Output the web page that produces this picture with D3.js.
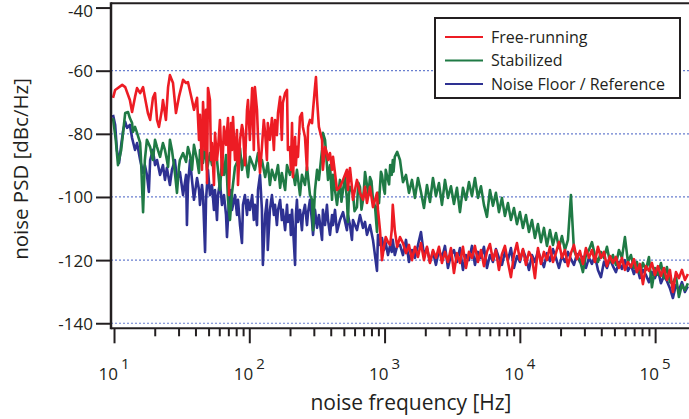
<!DOCTYPE html>
<html>
<head>
<meta charset="utf-8">
<script src="https://cdn.jsdelivr.net/npm/d3@7"></script>
<style>
  body { margin: 0; background: #fff; }
  text { font-family: "Open Sans", sans-serif; fill: #231f20; }
</style>
</head>
<body>
<div class="chart"></div>
<script>
'use strict';

// shared FFT bins above ~1.3 kHz (Hz)
var hfFreq = [
  1300,1368,1440,1515,1594,1677,1766,1858,1955,2058,
  2166,2279,2398,2524,2656,2796,2942,3096,3258,3429,
  3608,3797,3996,4205,4426,4657,4901,5158,5428,5712,
  6012,6326,6657,7006,7373,7759,8166,8593,9044,9518,
  10016,10540,11090,11680,12290,12930,13610,14320,15070,15860,
  16690,17570,18490,19450,20470,21540,22670,23860,25110,26420,
  27810,29260,30800,32410,34110,35890,37780,39760,41840,44030,
  46340,48760,51320,54010,56840,59810,62950,66240,69710,73370,
  77210,81250,85510,89990,94710,99660,104900,110400,116100,122200,
  128600,135400,142500,149900,157800,166100,174700
];

// free-running: [Hz, dBc/Hz] below 1.3 kHz, then dB on hfFreq
var freeRunningLow = [
  [9.83,-68.6],[10.2,-66.1],[11.5,-64.5],[12.1,-65.2],[13.1,-69.3],[13.6,-73.1],[14.3,-68.3],[14.8,-65.5],[15.6,-67.1],[16.4,-65.2],
  [16.9,-68.3],[17.8,-73.4],[18.5,-75.6],[19.4,-68.6],[20.1,-67.1],[20.8,-75.6],[21.5,-77.8],[22.6,-72.4],[23.0,-69.3],[24.2,-75.6],
  [25.1,-65.2],[25.9,-61.4],[27.3,-63.9],[28.7,-73.4],[30.2,-68.3],[32.4,-62.9],[34.1,-63.9],[35.2,-63.6],[37.7,-69.3],[39.0,-72.4],
  [41.1,-68.6],[42.5,-81.9],[43.2,-74.0],[44.7,-91.4],[45.5,-69.9],[47.1,-85.1],[47.9,-72.4],[48.7,-95.6],[49.5,-65.5],[51.2,-69.3],
  [52.1,-88.3],[53.0,-82.9],[54.8,-96.2],[55.8,-79.7],[57.7,-88.3],[58.7,-85.1],[60.7,-75.6],[62.8,-93.0],[65.0,-77.8],[67.3,-83.5],
  [69.6,-75.0],[70.8,-99.4],[73.2,-76.6],[74.5,-85.1],[75.8,-74.7],[78.4,-88.3],[81.1,-78.8],[82.5,-96.2],[85.4,-81.9],[88.3,-77.2],
  [89.8,-78.8],[92.9,-89.9],[96.2,-72.4],[97.8,-69.3],[101,-81.9],[105,-65.5],[108,-85.1],[110,-65.2],[114,-72.4],[116,-81.0],
  [120,-92.4],[124,-84.2],[128,-75.6],[131,-79.7],[135,-88.3],[137,-76.6],[142,-81.9],[147,-75.0],[152,-85.1],[155,-75.6],
  [160,-80.4],[163,-73.4],[169,-68.3],[174,-81.9],[177,-70.2],[184,-67.1],[190,-66.1],[193,-85.1],[200,-84.2],[203,-91.4],
  [207,-76.6],[210,-93.7],[218,-81.0],[221,-89.9],[225,-84.2],[229,-87.3],[237,-74.7],[245,-73.4],[249,-77.8],[258,-81.0],
  [267,-91.4],[272,-77.8],[281,-75.6],[291,-76.6],[296,-72.4],[306,-65.2],[311,-62.0],[317,-69.3],[327,-77.8],[345,-81.9],
  [350,-91.4],[363,-84.2],[375,-86.1],[382,-88.3],[395,-86.1],[409,-91.4],[416,-87.3],[430,-92.4],[445,-97.8],[468,-96.8],
  [493,-94.6],[527,-91.4],[536,-97.8],[555,-90.8],[574,-96.8],[584,-100.9],[625,-94.6],[658,-98.7],[693,-100.9],[717,-96.8],
  [741,-101.9],[780,-96.8],[821,-103.2],[879,-98.7],[894,-104.1],[925,-110.5],[957,-120.0],[990,-115.8],[1020,-112.7],[1060,-114.3],
  [1100,-115.2],[1130,-110.5],[1150,-102.5],[1190,-110.5],[1240,-115.8]
];
var freeRunningHigh = [
  -112.7,-114.6,-117.8,-115.2,-120.0,-115.8,-119.0,-114.6,-120.0,-115.8,
  -120.9,-116.8,-119.3,-115.8,-120.9,-117.4,-120.6,-116.2,-124.1,-117.8,
  -120.9,-115.8,-122.5,-117.4,-119.3,-115.5,-120.6,-116.8,-121.9,-117.4,
  -114.9,-120.0,-116.8,-123.1,-118.1,-115.5,-120.6,-125.4,-118.4,-114.6,
  -120.0,-116.5,-121.5,-117.4,-119.3,-125.7,-116.2,-121.2,-117.4,-120.0,
  -115.8,-120.6,-117.8,-114.3,-119.3,-116.8,-121.9,-117.8,-115.2,-119.7,
  -117.1,-121.2,-116.2,-119.3,-116.8,-120.6,-115.8,-119.3,-117.4,-121.9,
  -118.7,-120.9,-119.0,-122.5,-119.3,-123.1,-120.6,-122.2,-119.7,-123.8,
  -121.2,-127.6,-121.9,-123.4,-120.9,-124.7,-121.9,-125.0,-122.5,-126.3,
  -123.1,-130.1,-123.8,-125.7,-123.1,-126.3,-124.4
];

var stabilizedLow = [
  [9.83,-75.0],[10.3,-81.9],[10.7,-89.9],[11.3,-85.1],[12.1,-73.4],[12.7,-73.1],[13.1,-75.0],[13.6,-76.6],[13.8,-79.4],[14.3,-77.8],
  [14.8,-79.7],[15.6,-82.9],[15.8,-87.3],[16.4,-104.8],[16.9,-88.3],[17.5,-81.9],[18.5,-84.2],[19.4,-88.3],[20.1,-81.9],[20.8,-84.2],
  [21.9,-87.3],[23.0,-82.9],[23.8,-85.1],[24.6,-88.3],[25.1,-90.5],[25.9,-81.9],[26.8,-85.1],[28.2,-92.4],[29.2,-98.7],[30.2,-90.5],
  [30.7,-88.3],[32.4,-86.1],[34.1,-88.9],[35.2,-84.2],[36.5,-86.7],[37.7,-91.4],[39.0,-83.5],[41.1,-88.3],[42.5,-92.4],[43.2,-85.1],
  [45.5,-89.2],[47.1,-83.5],[48.7,-91.4],[51.2,-86.1],[53.0,-89.9],[54.8,-85.1],[57.7,-88.3],[60.7,-97.8],[62.8,-88.3],[65.0,-93.0],
  [67.3,-86.7],[69.6,-100.9],[72.0,-107.3],[74.5,-98.7],[78.4,-90.5],[82.5,-88.3],[85.4,-84.5],[88.3,-91.4],[92.9,-86.1],[97.8,-93.7],
  [101,-87.3],[105,-89.2],[110,-91.4],[116,-86.1],[120,-90.5],[124,-88.3],[131,-93.7],[137,-89.2],[142,-96.2],[147,-91.4],
  [155,-94.6],[163,-89.9],[169,-97.1],[174,-92.4],[184,-97.8],[190,-89.9],[200,-93.0],[207,-89.9],[218,-96.2],[225,-91.4],
  [237,-99.4],[245,-93.0],[258,-96.2],[267,-90.5],[281,-99.4],[291,-100.9],[296,-110.5],[306,-97.8],[317,-91.4],[327,-94.6],
  [345,-85.1],[350,-79.7],[363,-81.9],[375,-89.9],[382,-94.6],[395,-89.9],[409,-100.9],[416,-93.0],[430,-97.8],[445,-102.5],
  [468,-94.6],[480,-101.5],[493,-97.8],[510,-93.5],[527,-100.9],[536,-107.9],[545,-99.5],[555,-96.8],[584,-98.7],[600,-104.5],
  [625,-103.2],[640,-95.5],[658,-96.8],[675,-104.0],[693,-100.9],[705,-97.0],[717,-92.1],[741,-96.2],[760,-99.5],[780,-93.7],
  [800,-95.0],[821,-100.9],[850,-103.0],[879,-111.1],[894,-98.7],[910,-102.0],[925,-96.8],[940,-92.0],[957,-93.0],[990,-97.8],
  [1005,-99.0],[1020,-91.4],[1060,-94.6],[1080,-96.0],[1100,-89.9],[1130,-93.0],[1150,-88.3],[1165,-92.0],[1190,-87.3],[1240,-85.7]
];
var stabilizedHigh = [
  -88.3,-95.3,-93.0,-98.7,-94.6,-100.3,-94.0,-98.4,-103.5,-96.2,
  -101.6,-94.0,-99.7,-95.6,-102.5,-94.6,-100.3,-96.6,-102.2,-97.1,
  -104.8,-97.1,-100.9,-95.3,-99.7,-94.0,-100.3,-96.6,-102.5,-106.3,
  -97.8,-102.8,-98.7,-104.8,-100.3,-106.0,-101.9,-107.3,-103.5,-108.6,
  -104.8,-109.8,-105.7,-111.1,-107.3,-113.0,-108.6,-114.3,-109.8,-115.5,
  -110.5,-115.2,-111.4,-116.2,-112.4,-116.8,-113.6,-99.4,-116.8,-119.3,
  -120.0,-123.8,-118.4,-116.8,-114.3,-118.4,-120.6,-117.4,-119.3,-115.8,
  -120.6,-118.4,-121.5,-116.8,-119.3,-112.7,-120.6,-118.4,-122.5,-120.6,
  -124.1,-120.9,-123.1,-119.0,-128.6,-122.5,-124.7,-120.9,-125.7,-122.2,
  -127.0,-127.3,-125.0,-131.7,-127.9,-129.5,-127.3
];

var referenceLow = [
  [9.83,-74.0],[10.2,-77.2],[10.5,-85.1],[10.9,-89.2],[11.3,-83.5],[11.7,-78.8],[12.1,-76.2],[12.5,-78.1],[13.1,-77.2],[13.6,-81.3],
  [14.3,-85.1],[14.8,-82.9],[15.6,-88.3],[16.4,-92.4],[16.9,-89.9],[17.5,-93.0],[18.1,-98.4],[18.5,-88.3],[19.4,-85.1],[20.1,-89.9],
  [20.8,-88.3],[21.9,-93.0],[23.0,-89.9],[23.8,-94.6],[24.6,-90.8],[25.9,-96.2],[26.8,-91.4],[28.2,-88.3],[29.2,-94.6],[30.7,-92.1],
  [32.4,-99.4],[34.1,-93.0],[34.6,-108.9],[35.2,-96.2],[36.5,-88.3],[37.7,-94.6],[39.0,-100.9],[41.1,-94.0],[42.5,-97.8],[43.2,-102.5],
  [44.7,-96.2],[45.5,-99.4],[47.1,-117.4],[47.9,-100.9],[49.5,-91.4],[51.2,-99.4],[53.0,-96.2],[54.8,-104.1],[55.8,-97.8],[57.7,-107.3],
  [58.7,-99.4],[60.7,-95.3],[62.8,-102.5],[65.0,-99.4],[67.3,-105.7],[68.4,-112.7],[70.8,-100.9],[73.2,-97.8],[74.5,-104.1],[78.4,-99.4],
  [81.1,-105.7],[82.5,-100.9],[85.4,-108.9],[88.3,-114.6],[89.8,-102.5],[92.9,-99.4],[96.2,-105.7],[97.8,-100.9],[101,-104.1],[105,-99.4],
  [108,-107.3],[110,-102.5],[114,-108.9],[116,-97.8],[120,-93.0],[124,-104.1],[126,-121.5],[131,-105.7],[135,-100.9],[137,-116.8],
  [142,-104.1],[147,-99.4],[152,-105.7],[155,-102.5],[160,-108.9],[163,-104.1],[169,-100.9],[174,-107.3],[177,-104.1],[184,-110.5],
  [190,-102.5],[193,-107.9],[200,-105.7],[203,-112.0],[207,-104.1],[210,-108.9],[218,-121.5],[221,-105.7],[225,-100.9],[229,-107.9],
  [237,-104.1],[245,-110.5],[249,-105.7],[258,-102.5],[267,-108.9],[272,-104.8],[281,-100.9],[291,-107.9],[296,-112.0],[306,-104.1],
  [317,-109.8],[327,-105.7],[345,-113.6],[350,-104.1],[363,-108.9],[375,-102.5],[382,-107.3],[395,-112.0],[409,-105.7],[416,-108.9],
  [430,-104.1],[445,-111.1],[468,-107.3],[493,-104.8],[527,-110.5],[536,-105.7],[555,-108.9],[574,-113.6],[584,-107.3],[625,-110.5],
  [658,-105.7],[693,-109.8],[717,-107.9],[741,-112.0],[780,-108.9],[821,-113.6],[879,-123.4],[894,-112.0],[925,-115.2],[957,-113.0],
  [990,-116.8],[1020,-114.6],[1060,-118.4],[1100,-115.2],[1130,-117.4],[1150,-113.6],[1190,-118.4],[1240,-115.5]
];
var referenceHigh = [
  -115.2,-118.4,-113.6,-120.6,-116.8,-119.3,-115.2,-111.1,-118.4,-116.2,
  -120.6,-117.4,-121.5,-116.8,-119.3,-115.5,-122.5,-118.4,-116.8,-120.6,
  -116.2,-123.1,-118.4,-120.0,-115.5,-121.5,-117.4,-119.3,-115.8,-122.5,
  -118.4,-120.6,-116.5,-119.3,-121.5,-117.4,-120.0,-116.2,-122.5,-118.7,
  -120.6,-116.8,-119.3,-123.1,-118.4,-120.6,-117.1,-119.7,-122.2,-117.8,
  -120.3,-116.5,-119.3,-122.5,-118.7,-120.6,-117.4,-119.7,-121.5,-118.1,
  -120.6,-119.0,-122.5,-119.3,-121.2,-118.7,-123.1,-125.4,-120.6,-122.5,
  -119.7,-121.9,-123.8,-120.6,-122.8,-120.0,-123.4,-121.5,-124.4,-121.9,
  -125.7,-123.1,-124.7,-127.0,-123.8,-125.7,-123.1,-127.3,-125.0,-126.6,
  -128.9,-132.0,-127.9,-129.5,-127.0,-130.1,-128.3
];

var yTicks = [-40, -60, -80, -100, -120, -140];
var gridTicks = [-60, -80, -100, -120, -140];
var xDecades = [10, 100, 1000, 10000, 100000];

var width = 689, height = 419;
var plot = {left: 111, right: 689, top: 3.3, bottom: 328.3};

// plotting order: reference at the back, free-running on top
var series = [
  {name: 'Noise Floor / Reference', color: '#2e3192', low: referenceLow, high: referenceHigh},
  {name: 'Stabilized', color: '#1f7a45', low: stabilizedLow, high: stabilizedHigh},
  {name: 'Free-running', color: '#ed1c24', low: freeRunningLow, high: freeRunningHigh}
];
series.forEach(function(s) {
  s.values = s.low.concat(hfFreq.map(function(f, i) { return [f, s.high[i]]; }));
});

var x = d3.scaleLog().domain([9.5, 178000]).range([plot.left, plot.right]);
var y = d3.scaleLinear().domain([-141.6, -38.65]).range([plot.bottom, plot.top]);

var svg = d3.select('.chart').append('svg')
  .attr('width', width)
  .attr('height', height);

svg.append('defs').append('clipPath').attr('id', 'plotclip')
  .append('rect')
    .attr('x', plot.left)
    .attr('y', plot.top)
    .attr('width', plot.right - plot.left)
    .attr('height', plot.bottom - plot.top);

// dotted grid
svg.append('g').selectAll('line')
  .data(gridTicks)
  .enter().append('line')
    .attr('x1', plot.left)
    .attr('x2', plot.right)
    .attr('y1', function(d) { return y(d); })
    .attr('y2', function(d) { return y(d); })
    .style('stroke', '#6a7fd0')
    .style('stroke-width', 1.2)
    .style('stroke-dasharray', '2,2');

// traces
var line = d3.line()
  .x(function(d) { return x(d[0]); })
  .y(function(d) { return y(d[1]); });

svg.append('g').attr('clip-path', 'url(#plotclip)')
  .selectAll('path')
  .data(series)
  .enter().append('path')
    .attr('d', function(d) { return line(d.values); })
    .style('fill', 'none')
    .style('stroke', function(d) { return d.color; })
    .style('stroke-width', 2.6)
    .style('stroke-linejoin', 'round');

// y axis
var yAxis = svg.append('g')
  .attr('transform', 'translate(' + plot.left + ',0)')
  .call(d3.axisLeft(y).tickValues(yTicks).tickSize(15).tickPadding(3)
    .tickFormat(function(d) { return String(d); }));
yAxis.select('.domain').remove();
yAxis.selectAll('.tick line').style('stroke', '#231f20').style('stroke-width', 2);
yAxis.selectAll('.tick text')
  .attr('dy', function(d) { return d === -40 ? '0.55em' : '0.35em'; })
  .style('font-size', '17px')
  .style('font-family', '"Open Sans", sans-serif')
  .style('fill', '#231f20');

// x axis: minor ticks, then decades
var minorTicks = [];
xDecades.forEach(function(dec) {
  for (var m = 2; m <= 9; m++) {
    if (dec * m < x.domain()[1]) minorTicks.push(dec * m);
  }
});
var xMinor = svg.append('g')
  .attr('transform', 'translate(0,' + plot.bottom + ')')
  .call(d3.axisBottom(x).tickValues(minorTicks).tickSize(8).tickFormat(''));
xMinor.select('.domain').remove();
xMinor.selectAll('.tick line').style('stroke', '#231f20').style('stroke-width', 2);

var xMajor = svg.append('g')
  .attr('transform', 'translate(0,' + plot.bottom + ')')
  .call(d3.axisBottom(x).tickValues(xDecades).tickSize(15).tickFormat(''));
xMajor.select('.domain').remove();
xMajor.selectAll('.tick line').style('stroke', '#231f20').style('stroke-width', 2);

var xLabels = svg.append('g').selectAll('text')
  .data(xDecades)
  .enter().append('text')
    .attr('x', function(d) { return x(d); })
    .attr('y', 380)
    .attr('text-anchor', 'middle')
    .style('font-size', '17px');
xLabels.append('tspan').text('10');
xLabels.append('tspan')
  .attr('dx', 3)
  .attr('dy', -11)
  .style('font-size', '15px')
  .text(function(d) { return Math.round(Math.log10(d)); });

// frame
var frame = svg.append('g')
  .style('stroke', '#231f20')
  .style('stroke-width', 2);
frame.append('line').attr('x1', plot.left).attr('x2', plot.right).attr('y1', plot.top).attr('y2', plot.top);
frame.append('line').attr('x1', plot.left).attr('x2', plot.right).attr('y1', plot.bottom).attr('y2', plot.bottom);
frame.append('line').attr('x1', plot.left).attr('x2', plot.left).attr('y1', plot.top - 1).attr('y2', plot.bottom + 1)
  .style('stroke-width', 2.5);

// axis titles
svg.append('text')
  .attr('x', 411)
  .attr('y', 410)
  .attr('text-anchor', 'middle')
  .style('font-size', '21px')
  .text('noise frequency [Hz]');

svg.append('text')
  .attr('transform', 'translate(28,169) rotate(-90)')
  .attr('text-anchor', 'middle')
  .style('font-size', '20.5px')
  .text('noise PSD [dBc/Hz]');

// legend
var legendBox = {x: 435, y: 18, w: 245, h: 80};
var legend = svg.append('g');
legend.append('rect')
  .attr('x', legendBox.x)
  .attr('y', legendBox.y)
  .attr('width', legendBox.w)
  .attr('height', legendBox.h)
  .style('fill', '#fff')
  .style('stroke', '#231f20')
  .style('stroke-width', 2);

var legendItems = legend.selectAll('g.item')
  .data(series.slice().reverse())
  .enter().append('g')
    .attr('class', 'item')
    .attr('transform', function(d, i) {
      return 'translate(' + (legendBox.x + 10) + ',' + (legendBox.y + 19 + i * 23.5) + ')';
    });
legendItems.append('line')
  .attr('x1', 0).attr('x2', 38)
  .style('stroke', function(d) { return d.color; })
  .style('stroke-width', 2);
legendItems.append('text')
  .attr('x', 46)
  .attr('dy', '0.35em')
  .style('font-size', '16px')
  .text(function(d) { return d.name; });
</script>
</body>
</html>
